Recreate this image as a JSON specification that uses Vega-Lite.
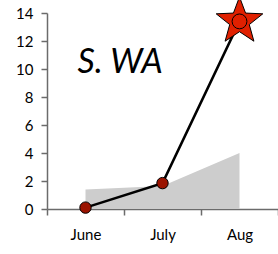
{
  "$schema": "https://vega.github.io/schema/vega-lite/v6.json",
  "width": 231,
  "height": 196,
  "autosize": "none",
  "padding": {"left": 47, "top": 13, "right": 0, "bottom": 45},
  "background": "white",
  "config": {
    "view": {"stroke": null},
    "font": "Lato",
    "axis": {
      "domainColor": "#6b6b6b",
      "domainWidth": 1.5,
      "tickColor": "#6b6b6b",
      "tickWidth": 1.5,
      "tickSize": 6,
      "labelFont": "Lato",
      "labelFontSize": 15,
      "labelColor": "#000000",
      "grid": false,
      "title": null
    }
  },
  "data": {
    "values": [
      {"month": "June", "series": "area", "v": 1.4},
      {"month": "July", "series": "area", "v": 1.65},
      {"month": "Aug", "series": "area", "v": 4.0},
      {"month": "June", "series": "line", "v": 0.1, "kind": "dark"},
      {"month": "July", "series": "line", "v": 1.85, "kind": "dark"},
      {"month": "Aug", "series": "line", "v": 13.4, "kind": "star"},
      {"month": "June", "series": "label", "v": 9.7, "label": "S. WA"}
    ]
  },
  "encoding": {
    "x": {
      "field": "month",
      "type": "ordinal",
      "sort": ["June", "July", "Aug"],
      "scale": {"type": "band", "paddingInner": 0, "paddingOuter": 0},
      "axis": {"labelAngle": 0, "tickBand": "extent", "labelPadding": 12}
    },
    "y": {
      "field": "v",
      "type": "quantitative",
      "scale": {"domain": [0, 14], "nice": false},
      "axis": {"values": [0, 2, 4, 6, 8, 10, 12, 14], "labelPadding": 8}
    }
  },
  "layer": [
    {
      "transform": [{"filter": "datum.series === 'area'"}],
      "mark": {"type": "area", "color": "#cdcdcd", "interpolate": "linear"}
    },
    {
      "transform": [{"filter": "datum.series === 'line'"}],
      "mark": {"type": "line", "color": "#000000", "strokeWidth": 2.5}
    },
    {
      "transform": [{"filter": "datum.kind === 'star'"}],
      "mark": {"type": "point", "shape": "M0,-1L0.247,-0.34L0.951,-0.309L0.399,0.13L0.588,0.809L0,0.42L-0.588,0.809L-0.399,0.13L-0.951,-0.309L-0.247,-0.34Z", "filled": true, "fill": "#e02000", "stroke": "#000000", "strokeWidth": 1, "size": 2400, "opacity": 1, "dy": 2}
    },
    {
      "transform": [{"filter": "datum.kind === 'star'"}],
      "mark": {"type": "circle", "fill": "#e02000", "stroke": "#000000", "strokeWidth": 1, "size": 220, "opacity": 1}
    },
    {
      "transform": [{"filter": "datum.kind === 'dark'"}],
      "mark": {"type": "circle", "fill": "#9b1300", "stroke": "#000000", "strokeWidth": 1, "size": 130, "opacity": 1}
    },
    {
      "transform": [{"filter": "datum.series === 'label'"}],
      "mark": {"type": "text", "align": "left", "baseline": "alphabetic", "dx": -8, "fontSize": 34, "fontStyle": "italic", "font": "Lato", "color": "#000000"},
      "encoding": {"text": {"field": "label"}}
    }
  ]
}
